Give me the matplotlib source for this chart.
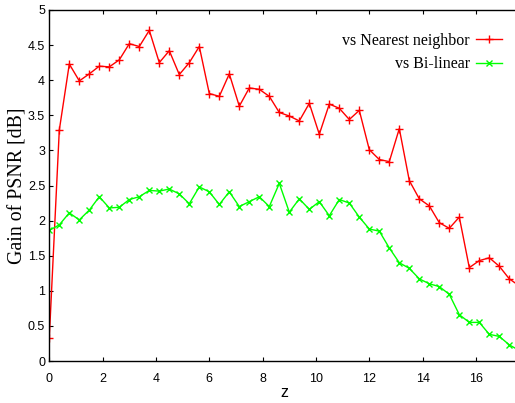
import matplotlib
matplotlib.use("Agg")
import matplotlib.pyplot as plt
import numpy as np

# gain of PSNR [dB], one sample every 0.375 in z
z_step = 0.375
vs_nearest = [0.33, 3.29, 4.23, 3.99, 4.09, 4.20, 4.19, 4.29, 4.52, 4.48,
              4.71, 4.25, 4.42, 4.08, 4.25, 4.48, 3.81, 3.77, 4.09, 3.63,
              3.89, 3.87, 3.77, 3.54, 3.49, 3.42, 3.67, 3.23, 3.66, 3.60,
              3.44, 3.57, 3.01, 2.87, 2.84, 3.31, 2.57, 2.31, 2.21, 1.97,
              1.89, 2.05, 1.33, 1.43, 1.47, 1.35, 1.17, 1.07]
vs_bilinear = [1.86, 1.94, 2.11, 2.01, 2.15, 2.34, 2.18, 2.19, 2.30, 2.34,
               2.43, 2.42, 2.45, 2.38, 2.24, 2.48, 2.41, 2.23, 2.41, 2.20,
               2.27, 2.34, 2.20, 2.53, 2.12, 2.31, 2.16, 2.27, 2.07, 2.30,
               2.25, 2.05, 1.88, 1.85, 1.61, 1.40, 1.32, 1.17, 1.10, 1.06,
               0.95, 0.66, 0.55, 0.55, 0.38, 0.35, 0.23, 0.15]
labels = ["vs Nearest neighbor", "vs Bi-linear"]

z = np.arange(len(vs_nearest)) * z_step

W, H = 515, 403
fig = plt.figure(figsize=(W / 100, H / 100), dpi=100)
ax = fig.add_axes([49.3 / W, (H - 361) / H, 470 / W, 351 / H])

ax.plot(z, vs_nearest, color="#ff0000", lw=1.0, marker="+", ms=6, mew=1.0,
        label=labels[0])
ax.plot(z, vs_bilinear, color="#00ff00", lw=1.0, marker="x", ms=4.5, mew=1.0,
        label=labels[1])

ax.set_xlim(0, z[-1])
ax.set_ylim(0, 5)
ax.set_xticks(np.arange(0, 17, 2))
ax.set_yticks(np.arange(0, 5.01, 0.5))
ax.set_yticklabels(["0", "0.5", "1", "1.5", "2", "2.5", "3", "3.5", "4", "4.5", "5"])
ax.tick_params(direction="in", length=3, width=0.8, top=True, right=True,
               labelsize=9)
ax.tick_params(axis="x", pad=8.5)
ax.tick_params(axis="y", pad=3)
for lab in ax.get_xticklabels() + ax.get_yticklabels():
    lab.set_family("Liberation Sans")
for sp in ax.spines.values():
    sp.set_linewidth(1.0)

ax.set_xlabel("z", family="Liberation Sans", fontsize=11.5, labelpad=0)
ax.set_ylabel("Gain of PSNR [dB]", family="Liberation Serif", fontsize=14.3,
              labelpad=0.5)

ax.legend(loc="upper right", bbox_to_anchor=(502 / W, (H - 33) / H),
          bbox_transform=fig.transFigure, frameon=False, markerfirst=False,
          borderaxespad=0, borderpad=0, handlelength=1.6, handletextpad=0.4,
          labelspacing=0.45, prop={"family": "Liberation Serif", "size": 11.5})

fig.savefig("out.png", dpi=100)
